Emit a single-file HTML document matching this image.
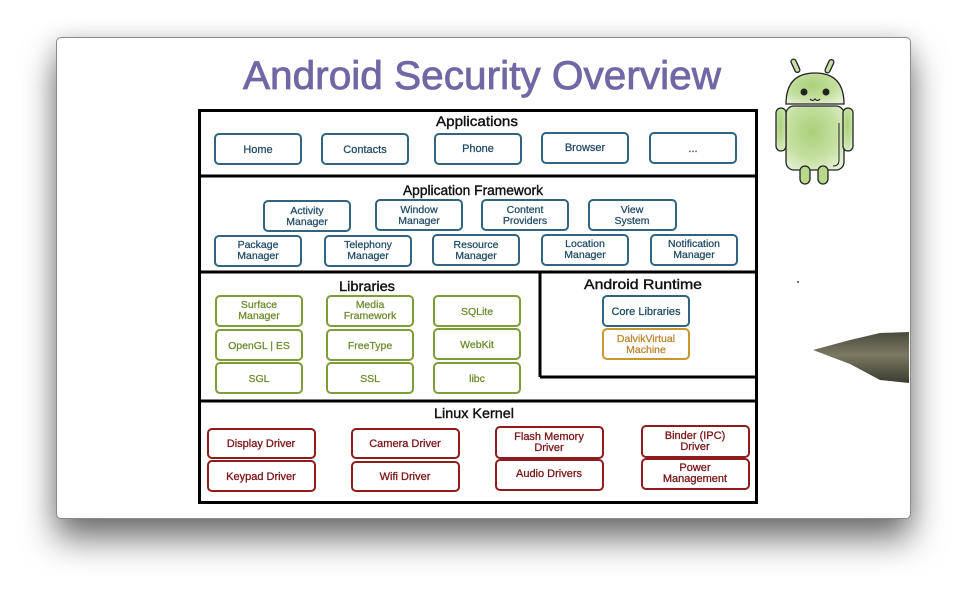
<!DOCTYPE html>
<html><head><meta charset="utf-8"><style>
html,body{margin:0;padding:0;background:#fff;width:966px;height:592px;overflow:hidden}
.win{position:absolute;left:56px;top:37px;width:853px;height:480px;background:#fff;border:1px solid #8a8a8a;border-radius:5px;box-shadow:0 20px 34px rgba(0,0,0,0.55),0 0 22px rgba(0,0,0,0.12)}
svg{position:absolute;left:0;top:0}
text{font-family:"Liberation Sans",sans-serif}
</style></head><body>
<div class="win"></div>
<svg width="966" height="592" viewBox="0 0 966 592">
<!-- title -->
<text x="482" y="89" text-anchor="middle" font-size="40" fill="#7068a4" textLength="478" lengthAdjust="spacingAndGlyphs" stroke="#7068a4" stroke-width="0.8">Android Security Overview</text>

<!-- outer frame -->
<g fill="none" stroke="#000" stroke-width="3">
<rect x="199.5" y="110.5" width="557" height="392"/>
<line x1="199" y1="176" x2="757" y2="176"/>
<line x1="199" y1="272" x2="757" y2="272"/>
<line x1="199" y1="401" x2="757" y2="401"/>
<line x1="540" y1="272" x2="540" y2="377"/>
<line x1="540" y1="377" x2="757" y2="377"/>
</g>

<!-- section titles -->
<g font-size="14" fill="#111" text-anchor="middle" stroke="#111" stroke-width="0.4">
<text x="477" y="126" textLength="82" lengthAdjust="spacingAndGlyphs">Applications</text>
<text x="473" y="195" textLength="140" lengthAdjust="spacingAndGlyphs">Application Framework</text>
<text x="367" y="291" textLength="56" lengthAdjust="spacingAndGlyphs">Libraries</text>
<text x="643" y="289" textLength="118" lengthAdjust="spacingAndGlyphs">Android Runtime</text>
<text x="474" y="418" textLength="80" lengthAdjust="spacingAndGlyphs">Linux Kernel</text>
</g>

<!-- applications -->
<g fill="none" stroke="#2f6580" stroke-width="2">
<rect x="215" y="134" width="86" height="30" rx="4"/>
<rect x="322" y="134" width="86" height="30" rx="4"/>
<rect x="435" y="134" width="86" height="30" rx="4"/>
<rect x="542" y="133" width="86" height="30" rx="4"/>
<rect x="650" y="133" width="86" height="30" rx="4"/>
</g>
<g font-size="11" fill="#1f4a66" text-anchor="middle" stroke="#1f4a66" stroke-width="0.25">
<text x="258" y="153">Home</text>
<text x="365" y="153">Contacts</text>
<text x="478" y="152">Phone</text>
<text x="585" y="151">Browser</text>
<text x="693" y="152">...</text>
</g>

<!-- framework -->
<g fill="none" stroke="#2f6580" stroke-width="2">
<rect x="264" y="201" width="86" height="30" rx="4"/>
<rect x="376" y="200" width="86" height="30" rx="4"/>
<rect x="482" y="200" width="86" height="30" rx="4"/>
<rect x="589" y="200" width="87" height="30" rx="4"/>
<rect x="215" y="236" width="86" height="30" rx="4"/>
<rect x="325" y="236" width="86" height="30" rx="4"/>
<rect x="433" y="235" width="86" height="30" rx="4"/>
<rect x="542" y="235" width="86" height="30" rx="4"/>
<rect x="651" y="235" width="86" height="30" rx="4"/>
</g>
<g font-size="10.5" fill="#1f4a66" text-anchor="middle" stroke="#1f4a66" stroke-width="0.25">
<text x="307" y="214">Activity</text><text x="307" y="225">Manager</text>
<text x="419" y="213">Window</text><text x="419" y="224">Manager</text>
<text x="525" y="213">Content</text><text x="525" y="224">Providers</text>
<text x="632" y="213">View</text><text x="632" y="224">System</text>
<text x="258" y="248">Package</text><text x="258" y="259">Manager</text>
<text x="368" y="248">Telephony</text><text x="368" y="259">Manager</text>
<text x="476" y="248">Resource</text><text x="476" y="259">Manager</text>
<text x="585" y="247">Location</text><text x="585" y="258">Manager</text>
<text x="694" y="247">Notification</text><text x="694" y="258">Manager</text>
</g>

<!-- libraries -->
<g fill="none" stroke="#7f9c3a" stroke-width="2">
<rect x="216" y="296" width="86" height="30" rx="4"/>
<rect x="327" y="296" width="86" height="30" rx="4"/>
<rect x="434" y="296" width="86" height="30" rx="4"/>
<rect x="216" y="330" width="86" height="30" rx="4"/>
<rect x="327" y="330" width="86" height="30" rx="4"/>
<rect x="434" y="329" width="86" height="30" rx="4"/>
<rect x="216" y="363" width="86" height="30" rx="4"/>
<rect x="327" y="363" width="86" height="30" rx="4"/>
<rect x="434" y="363" width="86" height="30" rx="4"/>
</g>
<g font-size="10.5" fill="#6a8a2a" text-anchor="middle" stroke="#6a8a2a" stroke-width="0.25">
<text x="259" y="308">Surface</text><text x="259" y="319">Manager</text>
<text x="370" y="308">Media</text><text x="370" y="319">Framework</text>
<text x="477" y="315">SQLite</text>
<text x="259" y="349">OpenGL | ES</text>
<text x="370" y="349">FreeType</text>
<text x="477" y="348">WebKit</text>
<text x="259" y="382">SGL</text>
<text x="370" y="382">SSL</text>
<text x="477" y="382">libc</text>
</g>

<!-- runtime -->
<rect x="603" y="296" width="86" height="30" rx="4" fill="none" stroke="#2f6580" stroke-width="2"/>
<rect x="603" y="329" width="86" height="30" rx="4" fill="none" stroke="#c9962f" stroke-width="2"/>
<text x="646" y="315" font-size="11" fill="#1f4a66" text-anchor="middle" stroke="#1f4a66" stroke-width="0.25">Core Libraries</text>
<text x="646" y="342" font-size="10.5" fill="#b8862a" text-anchor="middle" stroke="#b8862a" stroke-width="0.25">DalvikVirtual</text>
<text x="646" y="353" font-size="10.5" fill="#b8862a" text-anchor="middle" stroke="#b8862a" stroke-width="0.25">Machine</text>

<!-- kernel -->
<g fill="none" stroke="#8e1c1c" stroke-width="2">
<rect x="208" y="429" width="107" height="29" rx="4"/>
<rect x="208" y="461" width="107" height="30" rx="4"/>
<rect x="352" y="429" width="107" height="29" rx="4"/>
<rect x="352" y="462" width="107" height="29" rx="4"/>
<rect x="496" y="427" width="107" height="31" rx="4"/>
<rect x="496" y="460" width="107" height="30" rx="4"/>
<rect x="642" y="426" width="107" height="31" rx="4"/>
<rect x="642" y="459" width="107" height="30" rx="4"/>
</g>
<g font-size="11" fill="#7a1515" text-anchor="middle" stroke="#7a1515" stroke-width="0.3">
<text x="261" y="447">Display Driver</text>
<text x="261" y="480">Keypad Driver</text>
<text x="405" y="447">Camera Driver</text>
<text x="405" y="480">Wifi Driver</text>
<text x="549" y="440">Flash Memory</text><text x="549" y="451">Driver</text>
<text x="549" y="477">Audio Drivers</text>
<text x="695" y="439">Binder (IPC)</text><text x="695" y="450">Driver</text>
<text x="695" y="471">Power</text><text x="695" y="482">Management</text>
</g>

<!-- android robot -->
<defs>
<radialGradient id="g" cx="0.45" cy="0.4" r="0.7">
<stop offset="0" stop-color="#a9d07a"/><stop offset="0.6" stop-color="#c5e0a0"/><stop offset="1" stop-color="#e4f0d4"/>
</radialGradient>
</defs>
<g stroke="#222" stroke-width="1.3">
<rect x="793" y="59" width="5" height="14" rx="2.5" fill="#c6e0a6" transform="rotate(-25 795 66)"/>
<rect x="827" y="59" width="5" height="14" rx="2.5" fill="#c6e0a6" transform="rotate(25 829 66)"/>
<path d="M786 104 Q786 73 815 73 Q844 73 844 104 Z" fill="url(#g)"/>
<rect x="786" y="106" width="58" height="64" rx="8" fill="url(#g)"/>
<rect x="776" y="108" width="10" height="43" rx="5" fill="url(#g)"/>
<rect x="843" y="108" width="10" height="43" rx="5" fill="url(#g)"/>
<rect x="800" y="166" width="10" height="18" rx="5" fill="#b8d88a"/>
<rect x="818" y="166" width="10" height="18" rx="5" fill="#b8d88a"/>
</g>
<circle cx="804" cy="92" r="3.5" fill="#222"/>
<circle cx="826" cy="92" r="3.5" fill="#222"/>
<path d="M810 99 q2.5 3 5 0 q2.5 3 5 0" fill="none" stroke="#222" stroke-width="1.2"/>
<path d="M839 123 L839 160 Q839 166 833 166" fill="none" stroke="#222" stroke-width="1"/>

<!-- dot -->
<circle cx="798" cy="282" r="1" fill="#444"/>

<!-- pen -->
<defs>
<linearGradient id="p" x1="0" y1="0" x2="0" y2="1">
<stop offset="0" stop-color="#4a4a3c"/><stop offset="0.45" stop-color="#7a7a62"/><stop offset="1" stop-color="#3a3a30"/>
</linearGradient>
</defs>
<path d="M813 350 L850 340 L880 333 L909 332 L909 383 L880 380 L850 364 Z" fill="url(#p)"/>
</svg>
</body></html>
